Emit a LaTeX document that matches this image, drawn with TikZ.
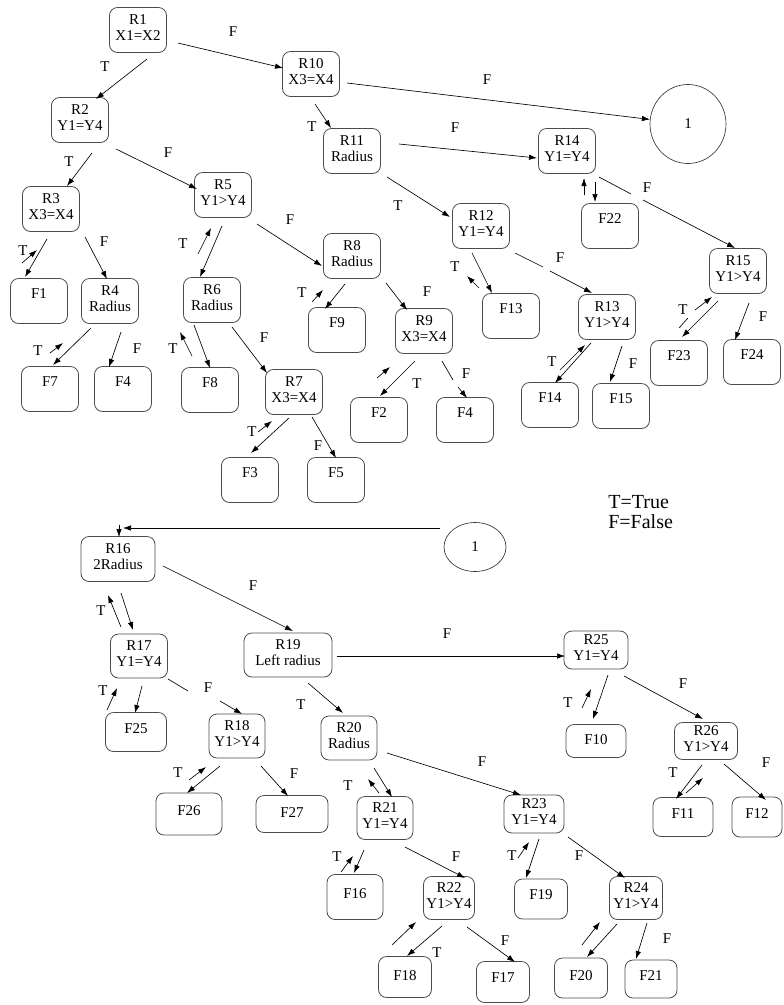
\documentclass[tikz,border=0pt]{standalone}
\usepackage{fontspec}
\setmainfont{Liberation Serif}
\newfontfamily\treefamily{Liberation Serif}
\usepackage{tikz}
\usetikzlibrary{arrows.meta, shapes, positioning, calc}
\newcommand{\boxfont}{\treefamily\fontsize{15}{16}\selectfont}
\newcommand{\keyfont}{\treefamily\fontsize{20}{20}\selectfont}

\begin{document}
\begin{tikzpicture}[
            x=1pt, y=-1pt,
            >={Latex[width=5.5pt,length=8pt]},
            line width=0.65pt,
                base/.style = {rectangle, rounded corners=8pt, draw=black!70,
                            line width=0.8pt,
                            minimum width=57pt, minimum height=45pt, inner sep=1pt,
                            align=center, font=\boxfont},
                rulebox/.style = {base, text depth=5pt},
                leaf/.style = {base, text depth=#1},
                leaf/.default = 14pt,
                boxsize/.style 2 args = {minimum width=#1, minimum height=#2},
                jump/.style = {ellipse, draw=black!80, inner sep=0pt, font=\boxfont},
                lbl/.style = {inner sep=0pt, font=\boxfont},
            on grid,
            node distance=90pt]
            \useasboundingbox (0,0) rectangle (784,1005);
            % upper tree
            \node (R1) [rulebox] at (138,30) {R1\\X1=X2};
            \node (R10) [rulebox, below right=44pt and 173pt of R1] {R10\\X3=X4};
            \node (R2) [rulebox, below left=90pt and 58pt of R1] {R2\\Y1=Y4};
            \node (R11) [rulebox, below right=77pt and 41pt of R10] {R11\\Radius};
            \node (C1) [jump, minimum width=76pt, minimum height=79pt, below right=50pt and 377pt of R10] {1};
            \node (R14) [rulebox, right=215pt of R11] {R14\\Y1=Y4};
            \node (R12) [rulebox, below right=75pt and 129pt of R11] {R12\\Y1=Y4};
            \node (F22) [leaf, below right=75pt and 43pt of R14] {F22};
            \node (R15) [rulebox, below right=120pt and 171pt of R14] {R15\\Y1>Y4};
            \node (R13) [rulebox, below right=91pt and 126pt of R12] {R13\\Y1>Y4};
            \node (F13) [leaf, below right=90pt and 30pt of R12] {F13};
            \node (F14) [leaf, below left=88pt and 57pt of R13] {F14};
            \node (F15) [leaf, below right=89pt and 14pt of R13] {F15};
            \node (F23) [leaf, below left=92pt and 59pt of R15] {F23};
            \node (F24) [leaf, below right=91pt and 14pt of R15] {F24};
            \node (R3) [rulebox, below left=89pt and 29pt of R2] {R3\\X3=X4};
            \node (R5) [rulebox, below right=75pt and 143pt of R2] {R5\\Y1>Y4};
            \node (F1) [leaf, below left=92pt and 12pt of R3] {F1};
            \node (R4) [rulebox, below right=92pt and 59pt of R3] {R4\\Radius};
            \node (F7) [leaf, below left=88pt and 60pt of R4] {F7};
            \node (F4a) [leaf, below right=88pt and 13pt of R4] {F4};
            \node (R6) [rulebox, below left=105pt and 11pt of R5] {R6\\Radius};
            \node (R8) [rulebox, below right=61pt and 129pt of R5] {R8\\Radius};
            \node (F8) [leaf, below left=90pt and 2pt of R6] {F8};
            \node (R7) [rulebox, below right=92pt and 82pt of R6] {R7\\X3=X4};
            \node (F3) [leaf, below left=88pt and 44pt of R7] {F3};
            \node (F5) [leaf, below right=88pt and 42pt of R7] {F5};
            \node (F9) [leaf, below left=74pt and 15pt of R8] {F9};
            \node (R9) [rulebox, below right=75pt and 72pt of R8] {R9\\X3=X4};
            \node (F2) [leaf, below left=89pt and 45pt of R9] {F2};
            \node (F4b) [leaf, below right=89pt and 41pt of R9] {F4};
            \node (key) [anchor=north west, align=left, inner sep=0pt, font=\keyfont] at (608,495) {T=True\\F=False};
            % lower tree
            \node (R16) [rulebox, boxsize={74pt}{45pt}] at (118,559) {R16\\2Radius};
            \node (C2) [jump, minimum width=62pt, minimum height=49pt, above right=12pt and 357pt of R16] {1};
            \node (R17) [rulebox, boxsize={57pt}{44pt}, below right=97pt and 21pt of R16] {R17\\Y1=Y4};
            \node (R19) [rulebox, boxsize={88pt}{44pt}, below right=96pt and 170pt of R16] {R19\\Left radius};
            \node (F25) [leaf=6pt, boxsize={61pt}{39pt}, below left=76pt and 3pt of R17] {F25};
            \node (R18) [rulebox, boxsize={56pt}{44pt}, below right=80pt and 98pt of R17] {R18\\Y1>Y4};
            \node (R20) [rulebox, boxsize={56pt}{44pt}, below right=83pt and 61pt of R19] {R20\\Radius};
            \node (R25) [rulebox, boxsize={64pt}{38pt}, above right=5pt and 308pt of R19] {R25\\Y1=Y4};
            \node (F10) [leaf=2pt, boxsize={60pt}{33pt}, below=91pt of R25] {F10};
            \node (R26) [rulebox, boxsize={63pt}{37pt}, below right=91pt and 110pt of R25] {R26\\Y1>Y4};
            \node (F26) [leaf=6pt, boxsize={66pt}{42pt}, below left=78pt and 48pt of R18] {F26};
            \node (F27) [leaf=2pt, boxsize={72pt}{37pt}, below right=78pt and 55pt of R18] {F27};
            \node (R21) [rulebox, boxsize={56pt}{43pt}, below right=80pt and 36pt of R20] {R21\\Y1=Y4};
            \node (R23) [rulebox, boxsize={60pt}{38pt}, below right=76pt and 185pt of R20] {R23\\Y1=Y4};
            \node (F11) [leaf=6pt, boxsize={60pt}{39pt}, below left=76pt and 23pt of R26] {F11};
            \node (F12) [leaf=6pt, boxsize={50pt}{40pt}, below right=76pt and 51pt of R26] {F12};
            \node (F16) [leaf=6pt, boxsize={56pt}{45pt}, below left=79pt and 30pt of R21] {F16};
            \node (R22) [rulebox, boxsize={51pt}{43pt}, below right=80pt and 64pt of R21] {R22\\Y1>Y4};
            \node (F19) [leaf=8pt, boxsize={53pt}{40pt}, below right=85pt and 7pt of R23] {F19};
            \node (R24) [rulebox, boxsize={53pt}{43pt}, below right=84pt and 102pt of R23] {R24\\Y1>Y4};
            \node (F18) [leaf=4pt, boxsize={53pt}{41pt}, below left=79pt and 44pt of R22] {F18};
            \node (F17) [leaf=8pt, boxsize={53pt}{41pt}, below right=84pt and 54pt of R22] {F17};
            \node (F20) [leaf=6pt, boxsize={53pt}{40pt}, below left=80pt and 55pt of R24] {F20};
            \node (F21) [leaf=6pt, boxsize={52pt}{38pt}, below right=81pt and 15pt of R24] {F21};
            % upper arrows
            \draw[->] ($(R1)+(9,29)$) -- ($(R2)+(16,-21)$);
            \draw[->] ($(R1)+(40,13)$) -- ($(R10)+(-28,-6)$);
            \draw[->] ($(R10)+(36,9)$) -- (C1);
            \draw[->] ($(R10)+(4,30)$) -- ($(R11)+(-21,-23)$);
            \draw[->] ($(R11)+(47,-7)$) -- ($(R14)+(-30,7)$);
            \draw[->] ($(R11)+(35,26)$) -- ($(R12)+(-31,-9)$);
            \draw[->] ($(R14)+(28,31)$) -- ($(F22)+(-15,-24)$);
            \draw[->] ($(F22)+(-26,-31)$) -- ($(R14)+(17,27)$);
            \draw[->] ($(R14)+(32,26)$) -- ($(R14)+(64,43)$) ($(R15)+(-95,-71)$) -- ($(R15)+(-3,-23)$);
            \draw[->] ($(R12)+(-9,27)$) -- ($(F13)+(-19,-23)$);
            \draw[->] ($(F13)+(-32,-28)$) -- ($(R12)+(-14,50)$);
            \draw[->] ($(R12)+(34,27)$) -- ($(R12)+(62,41)$) ($(R13)+(-57,-46)$) -- ($(R13)+(-15,-24)$);
            \draw[->] ($(R13)+(-16,26)$) -- ($(F14)+(5,-22)$);
            \draw[->] ($(F14)+(10,-35)$) -- ($(R13)+(-22,28)$);
            \draw[->] ($(R13)+(15,29)$) -- ($(F15)+(-11,-24)$);
            \draw[->] ($(R15)+(-20,30)$) -- ($(F23)+(3,-26)$);
            \draw[->] ($(F23)+(0,-35)$) -- ($(F23)+(9,-45)$) ($(R15)+(-43,39)$) -- ($(R15)+(-26,26)$);
            \draw[->] ($(R15)+(11,32)$) -- ($(F24)+(-17,-22)$);
            \draw[->] ($(R2)+(12,33)$) -- ($(R3)+(16,-23)$);
            \draw[->] ($(R2)+(36,29)$) -- ($(R5)+(-26,-6)$);
            \draw[->] ($(R3)+(-4,30)$) -- ($(F1)+(-14,-24)$);
            \draw[->] ($(F1)+(-17,-38)$) -- ($(R3)+(-14,41)$);
            \draw[->] ($(R3)+(34,28)$) -- ($(R4)+(-3,-22)$);
            \draw[->] ($(R4)+(-19,27)$) -- ($(F7)+(3,-24)$);
            \draw[->] ($(F7)+(0,-36)$) -- ($(R4)+(-47,42)$);
            \draw[->] ($(R4)+(11,31)$) -- ($(F4a)+(-14,-22)$);
            \draw[->] ($(R5)+(-1,31)$) -- ($(R6)+(-12,-23)$);
            \draw[->] ($(R6)+(-14,-46)$) -- ($(R5)+(-12,33)$);
            \draw[->] ($(R5)+(34,29)$) -- ($(R8)+(-30,10)$);
            \draw[->] ($(R6)+(-18,25)$) -- ($(F8)+(0,-22)$);
            \draw[->] ($(F8)+(-18,-34)$) -- ($(R6)+(-32,32)$);
            \draw[->] ($(R6)+(20,27)$) -- ($(R7)+(-27,-19)$);
            \draw[->] ($(R7)+(-5,26)$) -- ($(F3)+(1,-27)$);
            \draw[->] ($(F3)+(8,-48)$) -- ($(R7)+(-22,29)$);
            \draw[->] ($(R7)+(18,25)$) -- ($(F5)+(0,-22)$);
            \draw[->] ($(R8)+(-7,28)$) -- ($(F9)+(-12,-21)$);
            \draw[->] ($(F9)+(-25,-28)$) -- ($(R8)+(-29,34)$);
            \draw[->] ($(R8)+(34,27)$) -- ($(R9)+(-17,-21)$);
            \draw[->] ($(R9)+(-9,30)$) -- ($(F2)+(1,-24)$);
            \draw[->] ($(F2)+(-2,-42)$) -- ($(R9)+(-34,36)$);
            \draw[->] ($(R9)+(18,30)$) -- ($(R9)+(29,49)$) ($(F4b)+(-7,-33)$) -- ($(F4b)+(2,-22)$);
            % lower arrows
            \draw[->] ($(C2)+(-35,-19)$) -- ($(R16)+(5,-31)$);
            \draw[->] ($(R16)+(1,-34)$) -- ($(R16)+(1,-22)$);
            \draw[->] ($(R16)+(3,34)$) -- ($(R17)+(-6,-26)$);
            \draw[->] ($(R17)+(-18,-29)$) -- ($(R16)+(-10,36)$);
            \draw[->] ($(R16)+(45,7)$) -- ($(R19)+(5,-24)$);
            \draw[->] ($(R19)+(49,1)$) -- ($(R25)+(-31,6)$);
            \draw[->] ($(R17)+(3,30)$) -- ($(F25)+(-1,-19)$);
            \draw[->] ($(F25)+(-29,-22)$) -- ($(R17)+(-22,32)$);
            \draw[->] ($(R17)+(29,23)$) -- ($(R17)+(49,35)$) ($(R18)+(-17,-35)$) -- ($(R18)+(5,-22)$);
            \draw[->] ($(R19)+(20,28)$) -- ($(R20)+(-6,-25)$);
            \draw[->] ($(R25)+(12,25)$) -- ($(F10)+(-3,-22)$);
            \draw[->] ($(F10)+(-14,-33)$) -- ($(R25)+(-5,39)$);
            \draw[->] ($(R25)+(28,26)$) -- ($(R26)+(-3,-22)$);
            \draw[->] ($(R18)+(-17,30)$) -- ($(F26)+(-2,-21)$);
            \draw[->] ($(F26)+(0,-34)$) -- ($(R18)+(-31,31)$);
            \draw[->] ($(R18)+(24,30)$) -- ($(F27)+(-4,-18)$);
            \draw[->] ($(R20)+(25,30)$) -- ($(R21)+(7,-21)$);
            \draw[->] ($(R21)+(-6,-25)$) -- ($(R20)+(19,41)$);
            \draw[->] ($(R20)+(38,15)$) -- ($(R23)+(-13,-19)$);
            \draw[->] ($(R21)+(-21,32)$) -- ($(F16)+(-1,-24)$);
            \draw[->] ($(F16)+(-14,-25)$) -- ($(R21)+(-32,38)$);
            \draw[->] ($(R21)+(20,29)$) -- ($(R22)+(16,-20)$);
            \draw[->] ($(R22)+(-7,28)$) -- ($(F18)+(2,-21)$);
            \draw[->] ($(F18)+(-13,-32)$) -- ($(R22)+(-33,24)$);
            \draw[->] ($(R22)+(18,29)$) -- ($(F17)+(12,-20)$);
            \draw[->] ($(R23)+(5,25)$) -- ($(F19)+(-15,-21)$);
            \draw[->] ($(F19)+(-23,-41)$) -- ($(R23)+(-5,28)$);
            \draw[->] ($(R23)+(34,23)$) -- ($(R24)+(-11,-20)$);
            \draw[->] ($(R24)+(-19,26)$) -- ($(F20)+(6,-21)$);
            \draw[->] ($(F20)+(1,-33)$) -- ($(R24)+(-36,24)$);
            \draw[->] ($(R24)+(11,25)$) -- ($(F21)+(-15,-20)$);
            \draw[->] ($(R26)+(-4,24)$) -- ($(F11)+(-7,-18)$);
            \draw[->] ($(F11)+(3,-24)$) -- ($(R26)+(-3,37)$);
            \draw[->] ($(R26)+(18,23)$) -- ($(F12)+(9,-17)$);
            % T and F labels
            \node (lR1R2) [lbl] at (105,67) {T};
            \node (lR1R10) [lbl] at (233,32) {F};
            \node (lR10C1) [lbl] at (487,80) {F};
            \node (lR10R11) [lbl] at (312,127) {T};
            \node (lR11R14) [lbl] at (455,128) {F};
            \node (lR11R12) [lbl] at (398,206) {T};
            \node (lR14R15) [lbl] at (647,188) {F};
            \node (lR12F13) [lbl] at (455,267) {T};
            \node (lR12R13) [lbl] at (560,258) {F};
            \node (lR13F14) [lbl] at (552,362) {T};
            \node (lR13F15) [lbl] at (633,364) {F};
            \node (lR15F23) [lbl] at (683,310) {T};
            \node (lR15F24) [lbl] at (763,317) {F};
            \node (lR2R3) [lbl] at (69,162) {T};
            \node (lR2R5) [lbl] at (168,153) {F};
            \node (lR3F1) [lbl] at (23,251) {T};
            \node (lR3R4) [lbl] at (104,242) {F};
            \node (lR4F7) [lbl] at (38,351) {T};
            \node (lR4F4) [lbl] at (137,349) {F};
            \node (lR5R6) [lbl] at (183,244) {T};
            \node (lR5R8) [lbl] at (290,220) {F};
            \node (lR6F8) [lbl] at (173,349) {T};
            \node (lR6R7) [lbl] at (264,338) {F};
            \node (lR7F3) [lbl] at (252,432) {T};
            \node (lR7F5) [lbl] at (318,446) {F};
            \node (lR8F9) [lbl] at (302,293) {T};
            \node (lR8R9) [lbl] at (427,292) {F};
            \node (lR9F2) [lbl] at (417,384) {T};
            \node (lR9F4) [lbl] at (466,374) {F};
            \node (lR16R17) [lbl] at (101,611) {T};
            \node (lR16R19) [lbl] at (253,586) {F};
            \node (lR19R25) [lbl] at (447,634) {F};
            \node (lR17F25) [lbl] at (103,691) {T};
            \node (lR17R18) [lbl] at (208,688) {F};
            \node (lR19R20) [lbl] at (301,705) {T};
            \node (lR25F10) [lbl] at (568,703) {T};
            \node (lR25R26) [lbl] at (683,684) {F};
            \node (lR18F26) [lbl] at (178,773) {T};
            \node (lR18F27) [lbl] at (294,774) {F};
            \node (lR20R21) [lbl] at (348,786) {T};
            \node (lR20R23) [lbl] at (482,762) {F};
            \node (lR21F16) [lbl] at (337,857) {T};
            \node (lR21R22) [lbl] at (456,857) {F};
            \node (lR22F18) [lbl] at (437,953) {T};
            \node (lR22F17) [lbl] at (505,941) {F};
            \node (lR23F19) [lbl] at (512,856) {T};
            \node (lR23R24) [lbl] at (579,856) {F};
            \node (lR24F21) [lbl] at (667,939) {F};
            \node (lR26F11) [lbl] at (673,773) {T};
            \node (lR26F12) [lbl] at (766,763) {F};
        \end{tikzpicture}
\end{document}
